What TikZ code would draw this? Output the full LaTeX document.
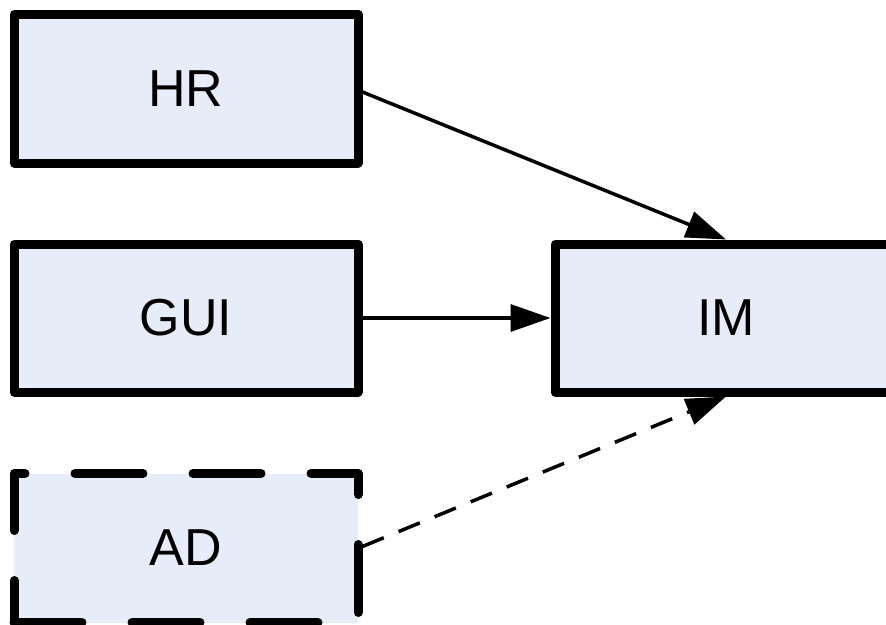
\documentclass[tikz,border=0pt]{standalone}
\usepackage{fontspec}
\setmainfont{Liberation Sans}
\usetikzlibrary{arrows.meta}
\definecolor{boxfill}{HTML}{E6EDF8}
\tikzset{
  blockbox/.style={draw=black, fill=boxfill, line width=9pt, line join=round,
    inner sep=0pt, minimum width=344pt, minimum height=148pt,
    font=\fontsize{52}{60}\selectfont},
  dashedbox/.style={blockbox, line cap=round, dash pattern=on 68pt off 50pt},
  conn/.style={line width=3.5pt, -{Triangle[length=40pt,width=27pt]}},
  dashconn/.style={conn, dash pattern=on 23pt off 16pt}
}
\begin{document}
\begin{tikzpicture}[x=1pt,y=-1pt]
\useasboundingbox (0,0) rectangle (886,624);
\node[blockbox, minimum height=149pt] (HR) at (186,88.5) {HR};
\node[blockbox] (GUI) at (186,318) {GUI};
\node[dashedbox, minimum height=149pt] (AD) at (186,548) {AD};
\node[blockbox, minimum width=342pt] (IM) at (726,318) {IM};
\draw[conn] ([yshift=-3.5pt]HR.east) -- (IM.north);
\draw[conn] (GUI.east) -- (IM.west);
\draw[dashconn] ([yshift=1.5pt]AD.east) -- (IM.south);
\end{tikzpicture}
\end{document}
